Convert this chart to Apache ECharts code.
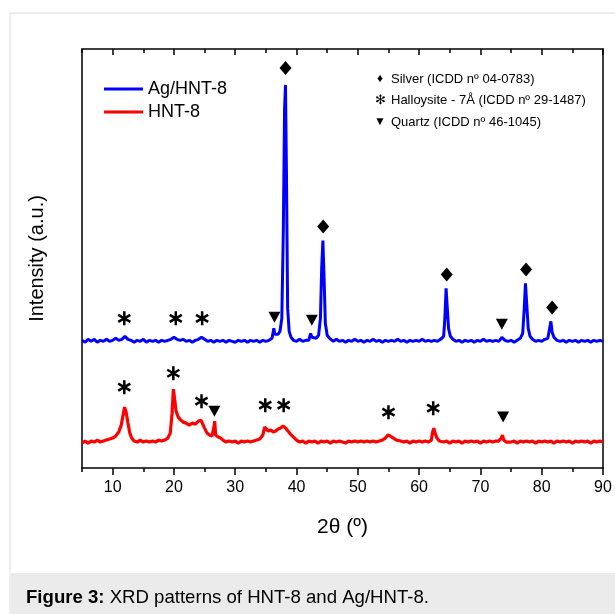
<!DOCTYPE html>
<html>
<head>
<meta charset="utf-8">
<script src="https://cdn.jsdelivr.net/npm/echarts@6.0.0/dist/echarts.min.js"></script>
<style>
html,body{margin:0;padding:0;background:#fff;}
#chart{width:615px;height:614px;}
</style>
</head>
<body>
<div id="chart"></div>
<script>
// ---- data (2θ in degrees, intensity in arbitrary units, offset traces) ----
const agAngle = [5,5.5,6,6.5,7,7.5,8,8.5,9,9.5,10,10.5,11,11.5,12,12.5,13,13.5,14,14.5,15,15.5,16,16.5,17,17.5,18,18.5,19,19.5,20,20.5,21,21.5,22,22.5,23,23.5,24,24.5,25,25.5,26,26.5,27,27.5,28,28.5,29,29.5,30,30.5,31,31.5,32,32.5,33,33.5,34,34.5,35,35.5,36,36.3,36.45,36.7,37,37.3,37.6,37.85,38.05,38.2,38.35,38.55,38.8,39.1,39.5,40,40.5,41,41.5,42,42.3,42.5,42.8,43.2,43.6,43.9,44.1,44.3,44.5,44.7,45,45.4,46,46.5,47,47.5,48,48.5,49,49.5,50,50.5,51,51.5,52,52.5,53,53.5,54,54.5,55,55.5,56,56.5,57,57.5,58,58.5,59,59.5,60,60.5,61,61.5,62,62.5,63,63.5,64,64.2,64.4,64.6,64.8,65.1,65.5,66,66.5,67,67.5,68,68.5,69,69.5,70,70.5,71,71.5,72,72.5,73,73.5,74,74.5,75,75.5,76,76.5,76.9,77.15,77.35,77.55,77.8,78.1,78.5,79,79.5,80,80.5,81,81.3,81.5,81.7,82,82.5,83,83.5,84,84.5,85,85.5,86,86.5,87,87.5,88,88.5,89,89.5,90];
const agIntensity = [128,126,129,127,129,126,128,127,129,127,128,130,128,129,132,129,128,126,128,127,129,126,128,127,128,126,128,127,128,129,131,129,128,129,127,128,126,128,129,131,129,127,128,126,128,127,128,126,128,127,126,128,127,128,126,128,127,128,126,128,127,128,130,140,134,133,134,137,150,240,360,384,300,160,137,131,128,127,129,127,128,128,135,131,129,130,133,150,200,228,190,145,133,130,127,129,127,128,126,128,127,129,127,128,126,128,127,129,127,128,126,128,127,128,127,129,127,128,126,128,127,128,127,129,127,128,127,128,127,129,132,150,180,160,140,132,129,127,128,126,128,127,128,126,128,127,129,127,128,127,128,127,131,128,127,128,126,128,130,135,160,185,165,140,132,129,127,128,127,129,130,140,147,136,131,128,127,128,126,128,127,128,126,128,127,128,126,128,127,128,127];

const hntAngle = [5,5.5,6,6.5,7,7.5,8,8.5,9,9.5,10,10.5,11,11.4,11.7,11.95,12.2,12.5,12.8,13.1,13.5,14,14.5,15,15.5,16,16.5,17,17.5,18,18.5,19,19.4,19.7,19.9,20.1,20.35,20.7,21.1,21.5,22,22.5,23,23.5,24,24.4,24.7,25,25.4,25.8,26.2,26.5,26.65,26.8,27.2,27.6,28,28.5,29,29.5,30,30.5,31,31.5,32,32.5,33,33.5,34,34.5,34.8,35.1,35.4,35.8,36.2,36.6,37,37.4,37.8,38.2,38.6,39,39.5,40,40.5,41,41.5,42,42.5,43,43.5,44,44.5,45,45.5,46,46.5,47,47.5,48,48.5,49,49.5,50,50.5,51,51.5,52,52.5,53,53.5,54,54.5,54.9,55.3,55.8,56.3,57,57.5,58,58.5,59,59.5,60,60.5,61,61.5,62,62.2,62.4,62.6,62.9,63.3,64,64.5,65,65.5,66,66.5,67,67.5,68,68.5,69,69.5,70,70.5,71,71.5,72,72.5,73,73.4,73.6,73.8,74.2,74.5,75,75.5,76,76.5,77,77.5,78,78.5,79,79.5,80,80.5,81,81.5,82,82.5,83,83.5,84,84.5,85,85.5,86,86.5,87,87.5,88,88.5,89,89.5,90];
const hntIntensity = [25,27,25,27,26,28,26,27,28,29,30,32,36,43,53,61,56,45,35,30,27,26,28,26,27,26,27,26,28,27,28,30,35,55,79,70,57,51,48,46,45,43,45,44,47,48,46,40,35,33,32,40,47,33,31,30,28,26,27,26,27,25,27,26,27,26,27,28,29,33,41,40,37,38,36,37,39,40,42,40,37,34,31,28,26,27,25,27,26,27,25,27,26,27,25,27,26,27,26,25,27,26,27,26,27,26,27,26,27,26,27,28,30,33,32,30,28,27,26,27,25,27,26,27,26,27,26,28,36,40,35,30,27,26,27,25,27,26,27,25,27,26,27,26,27,25,27,26,27,26,27,27,30,33,28,26,27,26,27,25,27,26,27,26,27,25,27,26,27,26,27,25,27,26,27,26,27,25,27,26,27,26,27,25,27,26,27,26];

// phase markers (position, height of marker)
const silverAngle = [38.2, 44.35, 64.5, 77.45, 81.7];
const silverLevel = [401, 242, 194, 199, 161];
const halloysiteAngle = [11.9, 20.3, 24.6, 11.9, 19.9, 24.5, 34.9, 37.9, 55.0, 62.3];
const halloysiteLevel = [150, 150, 150, 81, 95, 67, 63, 63, 56, 60];
const quartzAngle = [36.4, 42.5, 73.5, 26.6, 73.7];
const quartzLevel = [151, 148, 144, 57, 51];

const majorTicks = [10,20,30,40,50,60,70,80,90];
const minorTicks = [5,15,25,35,45,55,65,75,85];

const seriesNames = ['Ag/HNT-8', 'HNT-8'];
const legendNotes = [
  ['\u2666', 'Silver (ICDD n\u00ba 04-0783)'],
  ['\u273B', 'Halloysite - 7\u00c5 (ICDD n\u00ba 29-1487)'],
  ['\u25BC', 'Quartz (ICDD n\u00ba 46-1045)']
];
const captionBold = 'Figure 3:';
const captionText = ' XRD patterns of HNT-8 and Ag/HNT-8.';

// ---- chart ----
const FONT = '"Liberation Sans", Arial, Helvetica, sans-serif';
const zip = (a, b) => a.map((v, i) => [v, b[i]]);
const asteriskPath = 'path://M-1.8,-10 L1.8,-10 L1.8,10 L-1.8,10 Z M7.76,-6.56 L9.56,-3.44 L-7.76,6.56 L-9.56,3.44 Z M9.56,3.44 L7.76,6.56 L-9.56,-3.44 L-7.76,-6.56 Z';

const chart = echarts.init(document.getElementById('chart'), null, {renderer: 'canvas'});

const axisBlack = {lineStyle: {color: '#000', width: 1.5}};
const xCommon = {type: 'value', min: 5, max: 90, splitLine: {show: false}};

const graphics = [
  {type: 'rect', z: -10, shape: {x: 10, y: 13, width: 700, height: 700}, style: {fill: 'none', stroke: '#dcdcdc', lineWidth: 1}},
  {type: 'rect', z: -9, shape: {x: 10.5, y: 573, width: 700, height: 60}, style: {fill: '#ebebeb'}},
  {type: 'text', x: 26, y: 598, style: {
    text: '{b|' + captionBold + '}' + captionText,
    font: '18.6px ' + FONT, fill: '#000', verticalAlign: 'middle',
    rich: {b: {fontWeight: 'bold', fontSize: 18.6, fontFamily: FONT}}
  }}
];
legendNotes.forEach((n, i) => {
  const y = 79 + i * 21.5;
  graphics.push({type: 'text', x: 380, y: y, style: {text: n[0], font: (i === 1 ? '13px ' : '12px ') + FONT, fill: '#000', align: 'center', verticalAlign: 'middle'}});
  graphics.push({type: 'text', x: 391, y: y, style: {text: n[1], font: '13px ' + FONT, fill: '#000', verticalAlign: 'middle'}});
});

const markerStyle = {color: '#000', opacity: 1};

chart.setOption({
  animation: false,
  backgroundColor: '#fff',
  textStyle: {fontFamily: FONT, color: '#000'},
  grid: {left: 82, right: 12, top: 49, bottom: 146, containLabel: false},
  legend: {
    data: seriesNames, orient: 'vertical', left: 104, top: 80, padding: 0,
    icon: 'rect', itemWidth: 39, itemHeight: 3, itemGap: 5,
    textStyle: {fontSize: 18, color: '#000', fontFamily: FONT, lineHeight: 18}
  },
  xAxis: [
    Object.assign({}, xCommon, {
      position: 'bottom', axisLine: axisBlack,
      axisTick: {customValues: majorTicks, length: 7, inside: false, lineStyle: {color: '#000', width: 1.5}},
      axisLabel: {customValues: majorTicks, fontSize: 16, color: '#000', margin: 12, fontFamily: FONT},
      name: '2\u03B8 (\u00ba)', nameLocation: 'middle', nameGap: 49,
      nameTextStyle: {fontSize: 21, color: '#000', fontFamily: FONT}
    }),
    Object.assign({}, xCommon, {
      position: 'bottom', axisLine: {show: false},
      axisTick: {customValues: minorTicks, length: 4, inside: false, lineStyle: {color: '#000', width: 1.5}},
      axisLabel: {show: false}
    }),
    Object.assign({}, xCommon, {
      position: 'top', axisLine: axisBlack,
      axisTick: {customValues: majorTicks, length: 6, inside: true, lineStyle: {color: '#000', width: 1.5}},
      axisLabel: {show: false}
    }),
    Object.assign({}, xCommon, {
      position: 'top', axisLine: {show: false},
      axisTick: {customValues: minorTicks, length: 4, inside: true, lineStyle: {color: '#000', width: 1.5}},
      axisLabel: {show: false}
    })
  ],
  yAxis: [
    {type: 'value', min: 0, max: 420, position: 'left', axisLine: Object.assign({show: true}, axisBlack),
     axisTick: {show: false}, axisLabel: {show: false}, splitLine: {show: false},
     name: 'Intensity (a.u.)', nameLocation: 'middle', nameGap: 35, nameRotate: 90,
     nameTextStyle: {fontSize: 20, color: '#000', fontFamily: FONT}},
    {type: 'value', min: 0, max: 420, position: 'right', axisLine: Object.assign({show: true}, axisBlack),
     axisTick: {show: false}, axisLabel: {show: false}, splitLine: {show: false}}
  ],
  graphic: graphics,
  series: [
    {name: seriesNames[0], type: 'line', data: zip(agAngle, agIntensity), showSymbol: false, symbol: 'none',
     lineStyle: {color: '#0000ff', width: 3}, itemStyle: {color: '#0000ff'}},
    {name: seriesNames[1], type: 'line', data: zip(hntAngle, hntIntensity), showSymbol: false, symbol: 'none',
     lineStyle: {color: '#ff0000', width: 3.2}, itemStyle: {color: '#ff0000'}},
    {name: 'silver', type: 'scatter', data: zip(silverAngle, silverLevel), symbol: 'diamond', symbolSize: [12, 14],
     itemStyle: markerStyle, silent: true},
    {name: 'halloysite', type: 'scatter', data: zip(halloysiteAngle, halloysiteLevel), symbol: asteriskPath, symbolSize: 14,
     symbolKeepAspect: true, itemStyle: markerStyle, silent: true},
    {name: 'quartz', type: 'scatter', data: zip(quartzAngle, quartzLevel), symbol: 'triangle', symbolRotate: 180, symbolSize: [12, 11],
     itemStyle: markerStyle, silent: true}
  ]
});
</script>
</body>
</html>
